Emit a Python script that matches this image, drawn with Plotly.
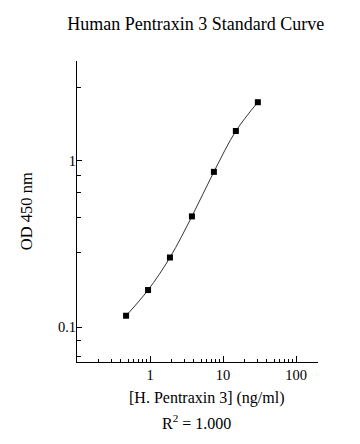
import math
import plotly.graph_objects as go

# Data
conc = [0.47, 0.94, 1.875, 3.75, 7.5, 15, 30]          # ng/ml
od450 = [0.117, 0.167, 0.262, 0.463, 0.858, 1.51, 2.25]  # OD 450 nm

title_text = "Human Pentraxin 3 Standard Curve"
x_title = "[H. Pentraxin 3] (ng/ml)"
y_title = "OD 450 nm"
r2_text = "R<sup>2</sup> = 1.000"

x_major = [1, 10, 100]
x_major_labels = ["1", "10", "100"]
x_minor = [0.2, 0.3, 0.4, 0.5, 0.6, 0.7, 0.8, 0.9,
           2, 3, 4, 5, 6, 7, 8, 9,
           20, 30, 40, 50, 60, 70, 80, 90, 200]
y_major = [0.1, 1]
y_major_labels = ["0.1", "1"]
y_minor = [0.0665, 0.083, 0.28, 0.457, 0.647, 0.815, 2.75]

FONT = "Liberation Serif, Times New Roman, serif"

fig = go.Figure()
fig.add_trace(go.Scatter(
    x=conc, y=od450, mode="lines+markers",
    line=dict(color="#333333", width=1, shape="spline", smoothing=1),
    marker=dict(symbol="square", size=6, color="black"),
    showlegend=False, hoverinfo="skip",
))

fig.update_layout(
    width=360, height=444,
    margin=dict(l=77, r=42, t=61, b=82, pad=0),
    paper_bgcolor="white", plot_bgcolor="white",
    font=dict(family=FONT, color="black", size=14.5),
    title=dict(text=title_text, font=dict(family=FONT, size=18, color="black"),
               x=195.8 / 360, xanchor="center", xref="container",
               y=1 - 24 / 444, yanchor="middle", yref="container"),
)

fig.update_xaxes(
    type="log", range=[-1, math.log10(200)],
    showline=True, linecolor="black", linewidth=1, mirror=False,
    showgrid=False, zeroline=False,
    tickmode="array", tickvals=x_major, ticktext=x_major_labels,
    ticks="inside", ticklen=6, tickwidth=1, tickcolor="black",
    tickfont=dict(family=FONT, size=14.5, color="black"),
    minor=dict(tickvals=x_minor, ticks="inside", ticklen=3.5, tickwidth=1,
               tickcolor="black", showgrid=False),
)
fig.update_yaxes(
    type="log", range=[-1.21, 0.60],
    showline=True, linecolor="black", linewidth=1, mirror=False,
    showgrid=False, zeroline=False,
    tickmode="array", tickvals=y_major, ticktext=y_major_labels,
    ticks="inside", ticklen=5, tickwidth=1, tickcolor="black",
    ticklabelstandoff=-3,
    tickfont=dict(family=FONT, size=14.5, color="black"),
    minor=dict(tickvals=y_minor, ticks="inside", ticklen=4, tickwidth=1,
               tickcolor="black", showgrid=False),
)

plot_w = 360 - 77 - 42
plot_h = 444 - 61 - 82
x0, y_bottom = 77, 444 - 82

fig.add_annotation(text=x_title, xref="paper", yref="paper",
                   x=(206.7 - x0) / plot_w, y=(y_bottom - 398) / plot_h,
                   xanchor="center", yanchor="middle", showarrow=False,
                   font=dict(family=FONT, size=16, color="black"))
fig.add_annotation(text=r2_text, xref="paper", yref="paper",
                   x=(196.7 - x0) / plot_w, y=(y_bottom - 422) / plot_h,
                   xanchor="center", yanchor="middle", showarrow=False,
                   font=dict(family=FONT, size=16, color="black"))
fig.add_annotation(text=y_title, xref="paper", yref="paper",
                   x=(26.7 - x0) / plot_w, y=0.5, textangle=-90,
                   xanchor="center", yanchor="middle", showarrow=False,
                   font=dict(family=FONT, size=16.5, color="black"))

fig.write_html("out.html",
               config={"displayModeBar": False, "staticPlot": True},
               post_script="document.body.style.margin='0';document.body.style.padding='0';")
